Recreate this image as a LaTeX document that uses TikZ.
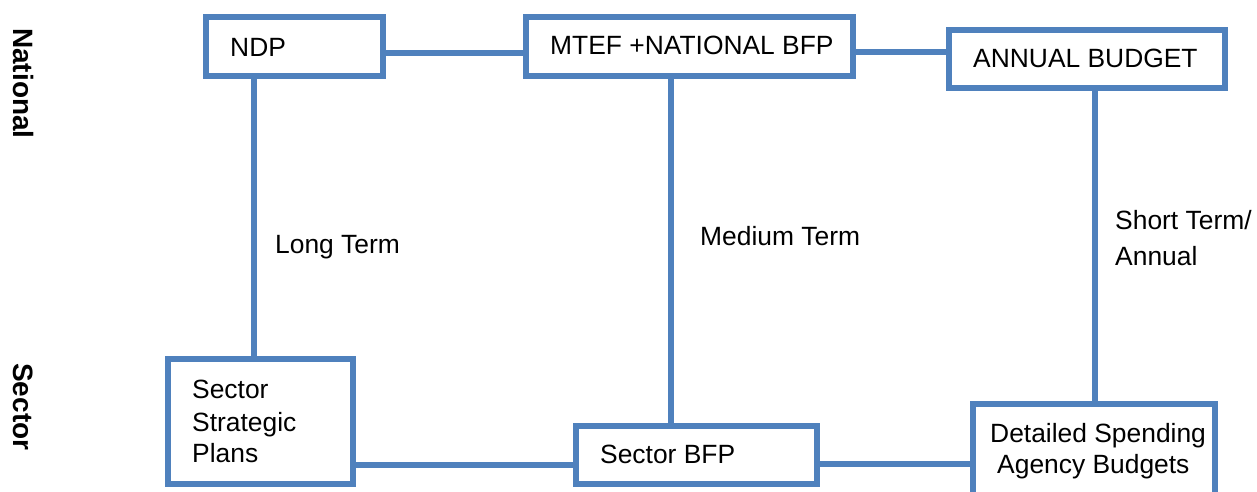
\documentclass[tikz,border=0pt]{standalone}
\usepackage{fontspec}
\setmainfont{Liberation Sans}
\definecolor{lineblue}{RGB}{79,129,189}
\begin{document}
\begin{tikzpicture}[x=1pt,y=-1pt,
  box/.style={draw=lineblue, line width=5.5pt, rectangle, inner sep=0pt},
  conn/.style={draw=lineblue, line width=5.5pt},
  txt/.style={inner sep=0pt, anchor=base west, font=\fontsize{26.4}{32}\selectfont},
  side/.style={inner sep=0pt, anchor=base west, rotate=-90, font=\fontsize{28}{32}\selectfont\bfseries}]
\useasboundingbox (0,0) rectangle (1257,492);
\clip (0,0) rectangle (1257,492);
% boxes
\node[box, minimum width=177pt, minimum height=59pt] (ndp) at (294.5,46.5) {};
\node[box, minimum width=327pt, minimum height=59pt] (mtef) at (689.5,46.5) {};
\node[box, minimum width=276pt, minimum height=58pt] (annual) at (1087,59) {};
\node[box, minimum width=185pt, minimum height=125pt] (ssp) at (260.5,421.5) {};
\node[box, minimum width=241pt, minimum height=58pt] (sbfp) at (696.5,455) {};
\node[box, minimum width=242pt, minimum height=94pt] (dsab) at (1094,451) {};
% connectors
\coordinate (h1) at (0,53);
\coordinate (h2) at (0,52);
\coordinate (h3) at (0,465);
\coordinate (h4) at (0,464);
\coordinate (v1) at (254,0);
\coordinate (v2) at (671,0);
\coordinate (v3) at (1095,0);
\draw[conn] (ndp.east |- h1) -- (mtef.west |- h1);
\draw[conn] (mtef.east |- h2) -- (annual.west |- h2);
\draw[conn] (v1 |- ndp.south) -- (v1 |- ssp.north);
\draw[conn] (v2 |- mtef.south) -- (v2 |- sbfp.north);
\draw[conn] (v3 |- annual.south) -- (v3 |- dsab.north);
\draw[conn] (ssp.east |- h3) -- (sbfp.west |- h3);
\draw[conn] (sbfp.east |- h4) -- (dsab.west |- h4);
% box texts
\node[txt] (tndp) at (230,57) {NDP};
\node[txt] (tmtef) at (550,55) {MTEF +NATIONAL BFP};
\node[txt] (tannual) at (973,68) {ANNUAL BUDGET};
\node[txt] (tssp1) at (192,398) {Sector};
\node[txt] (tssp2) at (192,431) {Strategic};
\node[txt] (tssp3) at (192,462) {Plans};
\node[txt] (tsbfp) at (600,463) {Sector BFP};
\node[txt] (tdsab1) at (990,442) {Detailed Spending};
\node[txt] (tdsab2) at (997,473) {Agency Budgets};
% connector labels
\node[txt] (llong) at (275,253) {Long Term};
\node[txt] (lmed) at (700,245) {Medium Term};
\node[txt] (lshort1) at (1115,229) {Short Term/};
\node[txt] (lshort2) at (1115,265) {Annual};
% side labels
\node[side] (snat) at (13,28) {National};
\node[side] (ssec) at (13,363) {Sector};
\end{tikzpicture}
\end{document}
